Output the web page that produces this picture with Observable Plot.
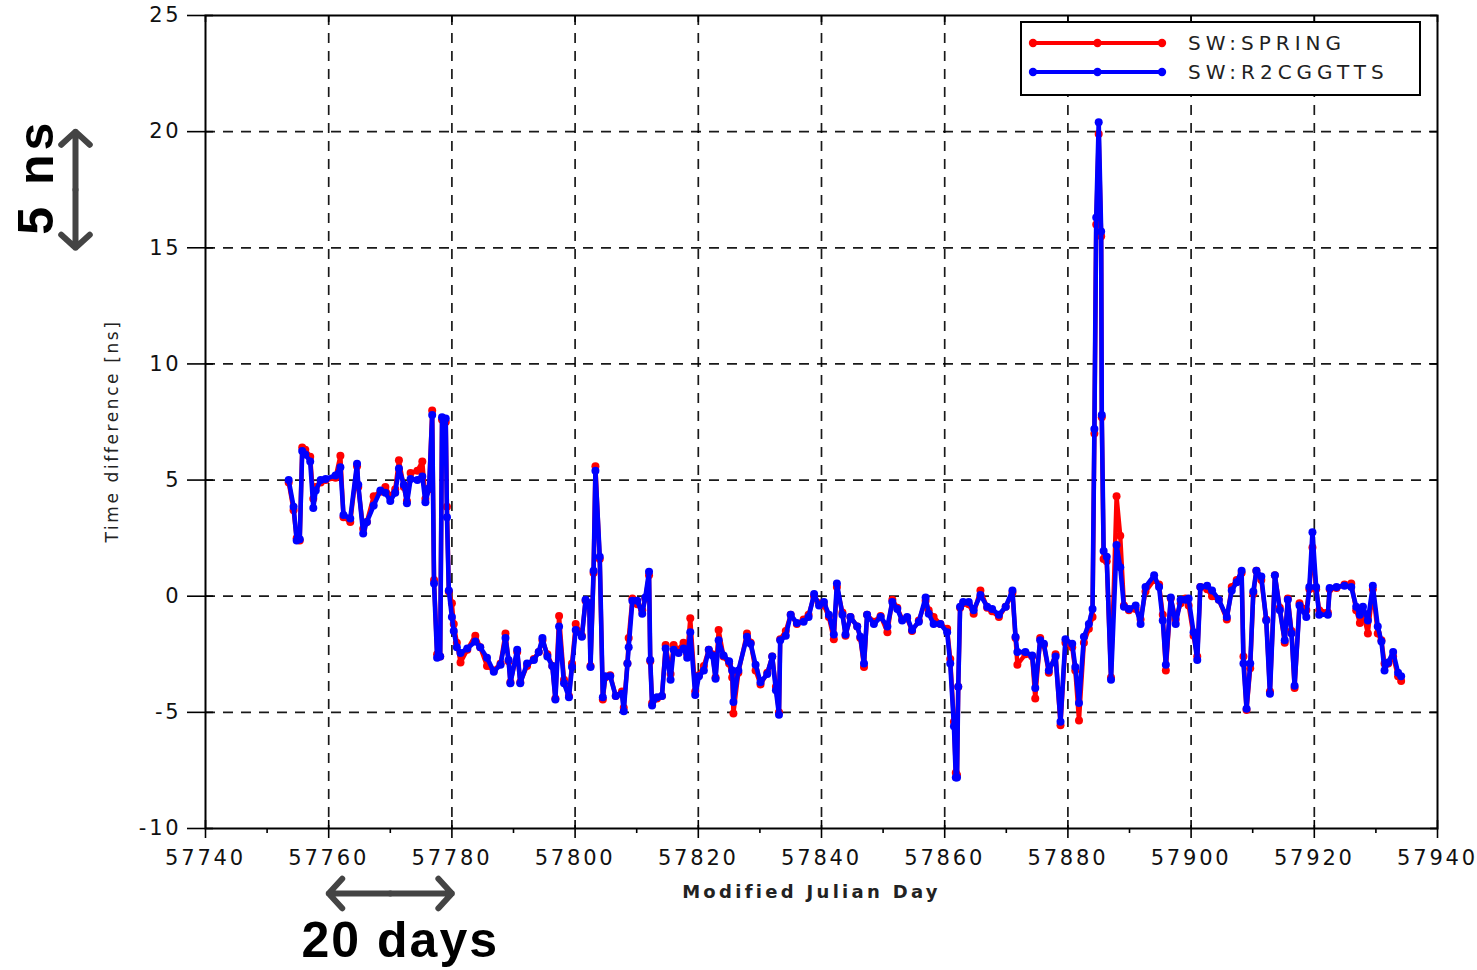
<!DOCTYPE html>
<html>
<head>
<meta charset="utf-8">
<script src="https://cdn.jsdelivr.net/npm/d3@7"></script>
<script src="https://cdn.jsdelivr.net/npm/@observablehq/plot@0.6"></script>
<style>
  body { margin: 0; background: #fff; }
  #chart svg g[aria-label="x-axis tick label"] text,
  #chart svg g[aria-label="y-axis tick label"] text { letter-spacing: 2.8px; }
</style>
</head>
<body>
<div id="chart"></div>
<script>
// ---- data ----
const days = [
  57753.5,57754.3,57754.8,57755.3,57755.7,57756.2,57757.0,57757.5,57757.9,57758.7,
  57759.5,57761.1,57761.9,57762.4,57763.5,57764.6,57764.8,57765.6,57766.2,57767.3,
  57768.4,57769.2,57770.0,57770.8,57771.4,57772.2,57772.7,57773.3,57774.4,57775.2,
  57775.7,57776.3,57776.8,57777.1,57777.6,57778.1,57778.4,57779.0,57779.2,57779.5,
  57780.0,57780.3,57780.8,57781.4,57782.5,57783.8,57784.6,57785.7,57786.8,57787.9,
  57788.7,57789.2,57789.5,57790.6,57791.1,57792.2,57793.3,57794.1,57794.7,57795.5,
  57796.3,57796.8,57797.4,57798.2,57799.0,57799.5,57800.1,57801.1,57801.7,57802.3,
  57802.5,57803.0,57803.3,57804.0,57804.5,57804.9,57805.7,57806.6,57807.6,57807.9,
  57808.5,57808.7,57809.3,57810.1,57810.9,57811.4,57812.0,57812.2,57812.5,57813.3,
  57814.1,57814.7,57815.5,57816.0,57816.8,57817.6,57818.2,57818.7,57819.5,57820.1,
  57820.9,57821.7,57822.3,57822.8,57823.3,57824.1,57825.0,57825.5,57825.7,57826.5,
  57827.9,57828.5,57829.3,57830.1,57831.2,57832.0,57832.6,57833.1,57833.3,57834.2,
  57835.0,57836.0,57837.1,57837.9,57838.8,57839.6,57840.4,57841.2,57842.0,57842.5,
  57843.4,57843.9,57844.7,57845.8,57846.3,57846.9,57847.4,57848.5,57849.6,57850.7,
  57851.5,57852.3,57853.1,57853.9,57854.7,57855.8,57856.9,57857.4,57858.2,57859.3,
  57860.4,57860.9,57861.5,57861.8,57862.0,57862.2,57862.5,57863.0,57863.9,57864.7,
  57865.8,57866.9,57867.7,57868.8,57869.9,57871.0,57871.5,57871.8,57873.1,57874.2,
  57874.7,57875.5,57876.1,57876.9,57878.0,57878.8,57879.6,57880.7,57881.2,57881.8,
  57882.6,57883.4,57884.0,57884.3,57884.6,57885.0,57885.4,57885.5,57885.8,57886.3,
  57887.0,57887.9,57888.5,57889.1,57889.9,57891.0,57891.8,57892.6,57894.0,57894.8,
  57895.4,57895.9,57896.7,57897.5,57898.3,57899.1,57899.6,57900.4,57901.0,57901.5,
  57902.6,57903.4,57904.5,57905.8,57906.6,57907.4,57908.2,57908.5,57909.0,57909.6,
  57910.1,57910.6,57911.4,57912.2,57912.8,57913.6,57914.4,57915.2,57915.7,57916.3,
  57916.8,57917.6,57918.7,57919.2,57919.7,57920.3,57920.8,57922.2,57922.5,57923.6,
  57924.9,57926.0,57926.8,57927.4,57927.9,57928.7,57929.5,57930.3,57930.9,57931.4,
  57932.0,57932.8,57933.6,57934.1
];

// SW:SPRING (red)
const springValues = [
  4.9,3.7,2.5,2.4,6.4,6.3,6.0,4.2,4.7,4.9,
  5.0,5.1,6.05,3.4,3.2,5.6,4.7,2.9,3.2,4.3,
  4.5,4.7,4.3,4.6,5.85,4.7,4.1,5.3,5.4,5.8,
  4.2,4.6,8.0,0.7,-2.5,-2.6,7.6,7.5,3.85,0.2,
  -0.3,-1.2,-2.0,-2.85,-2.3,-1.7,-2.2,-3.0,-3.2,-2.9,
  -1.6,-2.8,-3.7,-2.4,-3.7,-3.0,-2.7,-2.4,-1.9,-2.5,
  -3.0,-4.4,-0.85,-3.6,-4.3,-2.9,-1.2,-1.7,-0.2,-0.3,
  -3.0,1.0,5.6,1.6,-4.45,-3.5,-3.4,-4.3,-4.1,-4.8,
  -2.9,-1.8,-0.1,-0.35,-0.6,-0.1,0.9,-2.8,-4.6,-4.4,
  -4.3,-2.1,-3.35,-2.1,-2.3,-2.0,-2.5,-0.95,-4.1,-3.4,
  -3.0,-2.3,-2.5,-3.5,-1.45,-2.6,-2.9,-3.5,-5.05,-3.3,
  -1.6,-2.0,-3.2,-3.8,-3.3,-2.6,-3.9,-5.0,-1.85,-1.5,
  -0.8,-1.2,-1.0,-0.8,0.0,-0.3,-0.4,-0.9,-1.85,0.4,
  -0.7,-1.7,-0.9,-1.3,-1.8,-3.05,-0.8,-1.1,-0.85,-1.55,
  -0.15,-0.5,-1.0,-0.95,-1.5,-1.05,-0.2,-0.6,-0.9,-1.2,
  -1.4,-2.7,-5.4,-7.6,-7.7,-3.9,-0.5,-0.3,-0.35,-0.75,
  0.25,-0.5,-0.65,-0.9,-0.45,0.15,-1.8,-2.95,-2.5,-2.6,
  -4.4,-1.8,-2.1,-3.3,-2.5,-5.55,-2.0,-2.2,-3.2,-5.35,
  -2.0,-1.4,-0.9,7.0,16.0,19.9,15.5,7.7,1.6,1.5,
  -3.5,4.3,2.6,-0.4,-0.6,-0.55,-1.0,0.2,0.7,0.5,
  -0.8,-3.2,-0.1,-1.0,-0.3,-0.1,-0.4,-1.7,-2.6,0.4,
  0.3,0.0,-0.15,-1.0,0.4,0.7,1.0,-2.6,-4.9,-3.1,
  0.1,1.1,0.7,-1.0,-4.1,0.9,-0.5,-2.0,-0.1,-1.5,
  -3.95,-0.3,-0.6,0.3,2.1,0.3,-0.6,-0.7,0.3,0.35,
  0.5,0.55,-0.6,-1.15,-0.7,-1.6,0.3,-1.6,-1.9,-2.9,
  -2.9,-2.6,-3.45,-3.65
];

// SW:R2CGGTTS (blue)
const r2cggttsValues = [
  5.0,3.85,2.4,2.45,6.25,6.1,5.8,3.8,4.55,5.0,
  5.05,5.2,5.55,3.5,3.35,5.7,4.8,2.7,3.2,3.9,
  4.55,4.45,4.1,4.45,5.5,4.8,4.0,5.05,5.0,5.15,
  4.05,4.65,7.8,0.55,-2.65,-2.6,7.7,7.65,3.4,0.25,
  -0.9,-1.5,-2.2,-2.45,-2.25,-1.95,-2.2,-2.65,-3.25,-2.95,
  -1.8,-2.75,-3.75,-2.3,-3.75,-2.9,-2.75,-2.4,-1.8,-2.6,
  -3.0,-4.45,-1.3,-3.75,-4.35,-3.05,-1.45,-1.75,-0.15,-0.3,
  -3.05,1.1,5.4,1.7,-4.35,-3.45,-3.45,-4.3,-4.2,-4.95,
  -2.9,-2.2,-0.2,-0.2,-0.75,-0.05,1.05,-2.75,-4.7,-4.35,
  -4.3,-2.25,-3.6,-2.3,-2.45,-2.25,-2.65,-1.55,-4.25,-3.45,
  -3.2,-2.3,-2.55,-3.55,-1.9,-2.55,-2.8,-3.2,-4.55,-3.2,
  -1.75,-2.05,-2.95,-3.7,-3.35,-2.6,-4.05,-5.1,-1.9,-1.7,
  -0.8,-1.15,-1.1,-0.9,0.1,-0.4,-0.25,-0.8,-1.65,0.55,
  -0.8,-1.65,-0.9,-1.3,-1.75,-2.9,-0.8,-1.2,-0.9,-1.3,
  -0.25,-0.55,-1.05,-0.9,-1.45,-1.1,-0.05,-0.75,-1.2,-1.2,
  -1.55,-2.9,-5.6,-7.8,-7.8,-3.9,-0.45,-0.25,-0.25,-0.6,
  0.05,-0.45,-0.55,-0.8,-0.45,0.25,-1.75,-2.4,-2.4,-2.55,
  -3.95,-1.9,-2.05,-3.2,-2.6,-5.4,-1.85,-2.05,-3.05,-4.6,
  -1.75,-1.2,-0.55,7.2,16.3,20.4,15.7,7.8,1.95,1.7,
  -3.6,2.2,1.25,-0.45,-0.55,-0.4,-1.2,0.4,0.9,0.4,
  -1.05,-2.95,-0.05,-1.2,-0.15,-0.15,-0.1,-1.55,-2.75,0.4,
  0.45,0.25,-0.15,-0.9,0.25,0.6,1.1,-2.9,-4.85,-2.9,
  0.2,1.1,0.85,-1.05,-4.2,0.9,-0.6,-1.9,-0.15,-1.6,
  -3.85,-0.4,-0.9,0.4,2.75,0.4,-0.8,-0.8,0.35,0.4,
  0.45,0.4,-0.45,-0.8,-0.45,-1.05,0.45,-1.3,-1.95,-3.2,
  -2.85,-2.4,-3.3,-3.45
];

const seriesNames = ["SW:SPRING", "SW:R2CGGTTS"];
const seriesColors = ["#ff0000", "#0000ff"];

const xTicks = [57740,57760,57780,57800,57820,57840,57860,57880,57900,57920,57940];
const xMinorTicks = [57750,57770,57790,57810,57830,57850,57870,57890,57910,57930];
const yTicks = [-10,-5,0,5,10,15,20,25];

const xLabel = "Modified Julian Day";
const yLabel = "Time difference [ns]";

// annotation spans
const dayArrow = [57760, 57780];
const dayArrowLabel = "20 days";
const nsArrow = [15, 20];
const nsArrowLabel = "5 ns";

// ---- build tables ----
const spring = days.map((d, i) => ({day: d, value: springValues[i]}));
const r2 = days.map((d, i) => ({day: d, value: r2cggttsValues[i]}));

const W = 1477, H = 970;
const mL = 205, mR = 40, mT = 15, mB = 142;
const frameW = W - mL - mR, frameH = H - mT - mB;

const dayMid = (dayArrow[0] + dayArrow[1]) / 2;
const nsMid = (nsArrow[0] + nsArrow[1]) / 2;
const arrowColor = "#444444";
const mainFont = "DejaVu Sans, Verdana, sans-serif";
const annotFont = "Liberation Sans, Arial, sans-serif";

const gridStyle = {stroke: "#000", strokeOpacity: 0.9, strokeWidth: 1.7, strokeDasharray: "10,8"};

const plot = Plot.plot({
  width: W,
  height: H,
  marginLeft: mL, marginRight: mR, marginTop: mT, marginBottom: mB,
  x: {domain: [xTicks[0], xTicks[xTicks.length - 1]], label: null},
  y: {domain: [yTicks[0], yTicks[yTicks.length - 1]], label: null},
  style: {background: "#fff", color: "#000", overflow: "visible", fontFamily: mainFont},
  marks: [
    Plot.gridX(xTicks.slice(1, -1), gridStyle),
    Plot.gridY(yTicks.slice(1, -1), gridStyle),
    Plot.line(spring, {x: "day", y: "value", stroke: seriesColors[0], strokeWidth: 4.4}),
    Plot.dot(spring, {x: "day", y: "value", fill: seriesColors[0], r: 4}),
    Plot.line(r2, {x: "day", y: "value", stroke: seriesColors[1], strokeWidth: 4.6}),
    Plot.dot(r2, {x: "day", y: "value", fill: seriesColors[1], r: 4}),
    Plot.frame({stroke: "#000", strokeWidth: 2}),
    // inner tick stubs
    Plot.ruleX(xTicks, {stroke: "#000", strokeWidth: 1.6, insetTop: frameH - 8}),
    Plot.ruleX(xTicks, {stroke: "#000", strokeWidth: 1.6, insetBottom: frameH - 7}),
    Plot.ruleY(yTicks, {stroke: "#000", strokeWidth: 1.6, insetRight: frameW - 8}),
    Plot.ruleY(yTicks, {stroke: "#000", strokeWidth: 1.6, insetLeft: frameW - 7}),
    // axes
    Plot.axisX(xTicks, {tickSize: 10, tickPadding: 12, fontSize: 21, tickFormat: d => String(d), label: null, strokeWidth: 1.6, fill: "#111"}),
    Plot.axisX(xMinorTicks, {tickSize: 5, tickFormat: () => "", label: null, strokeWidth: 1.6}),
    Plot.axisY(yTicks, {tickSize: 18, tickPadding: 6, fontSize: 21, tickFormat: d => String(d), label: null, strokeWidth: 1.6, fill: "#111"}),
    // axis titles
    Plot.text([xLabel], {frameAnchor: "bottom", textAnchor: "middle", dx: -10, dy: 69, fontSize: 18, fontWeight: "bold", fill: "#222"}),
    Plot.text([yLabel], {frameAnchor: "left", textAnchor: "middle", rotate: -90, dx: -93, dy: 9, fontSize: 17, fill: "#222"}),
    // annotations: 20 days
    Plot.arrow([0, 1], {
      x1: [dayMid, dayMid], x2: dayArrow, y1: [yTicks[0], yTicks[0]], y2: [yTicks[0], yTicks[0]],
      dy: 65, stroke: arrowColor, strokeWidth: 6, headLength: 5, headAngle: 95, clip: false
    }),
    Plot.text([dayArrowLabel], {x: dayMid, y: yTicks[0], dx: 10, dy: 112, fontSize: 50, fontWeight: "bold", fill: "#000", fontFamily: annotFont}),
    // annotations: 5 ns
    Plot.arrow([0, 1], {
      x1: [xTicks[0], xTicks[0]], x2: [xTicks[0], xTicks[0]], y1: [nsMid, nsMid], y2: nsArrow,
      dx: -130, stroke: arrowColor, strokeWidth: 6, headLength: 5, headAngle: 95, clip: false
    }),
    Plot.text([nsArrowLabel], {x: xTicks[0], y: nsMid, dx: -169, dy: -13, rotate: -90, fontSize: 50, fontWeight: "bold", fill: "#000", fontFamily: annotFont})
  ]
});

const svg = d3.select(plot);
// letter spacing for titles and annotations
const spacing = {};
spacing[xLabel] = "3.3px";
spacing[yLabel] = "2.6px";
spacing[dayArrowLabel] = "2px";
spacing[nsArrowLabel] = "4px";
svg.selectAll("text").each(function () {
  const t = this.textContent;
  if (spacing[t] !== undefined) this.style.letterSpacing = spacing[t];
});

// legend (drawn inside the plot frame, top right)
const lg = svg.append("g").attr("class", "legend");
const lx = 1021, ly = 22, lw = 399, lh = 73;
lg.append("rect").attr("x", lx).attr("y", ly).attr("width", lw).attr("height", lh)
  .attr("fill", "#fff").attr("stroke", "#000").attr("stroke-width", 2);
seriesNames.forEach((name, i) => {
  const cy = ly + 21 + i * 29;
  const x0 = lx + 12, x1 = lx + 141;
  lg.append("line").attr("x1", x0).attr("x2", x1).attr("y1", cy).attr("y2", cy)
    .attr("stroke", seriesColors[i]).attr("stroke-width", 4);
  [x0, (x0 + x1) / 2, x1].forEach(cx => {
    lg.append("circle").attr("cx", cx).attr("cy", cy).attr("r", 4.2).attr("fill", seriesColors[i]);
  });
  lg.append("text").attr("x", lx + 167).attr("y", cy).attr("dy", "0.36em")
    .attr("text-anchor", "start").attr("font-size", 20).attr("fill", "#222")
    .style("letter-spacing", "5px").text(name);
});

document.getElementById("chart").appendChild(plot);
</script>
</body>
</html>
